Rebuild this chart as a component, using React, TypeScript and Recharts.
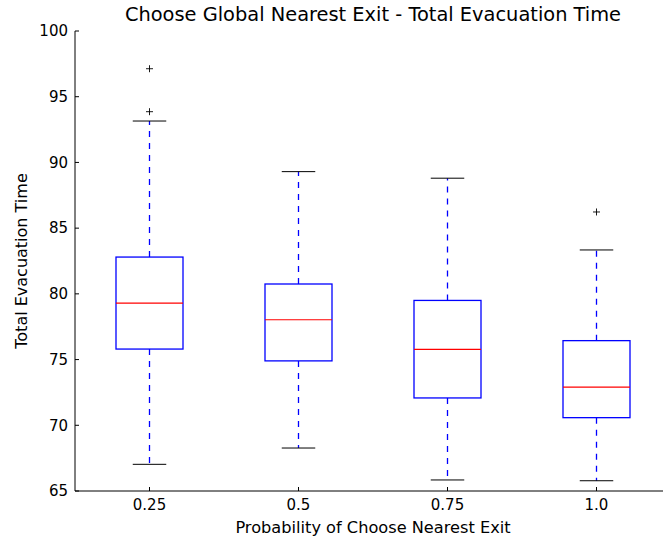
import { ComposedChart, Bar, XAxis, YAxis, Label } from 'recharts';

const categories = ['0.25', '0.5', '0.75', '1.0'];
const whiskerLow = [67.03, 68.27, 65.84, 65.78];
const q1 = [75.8, 74.9, 72.08, 70.58];
const median = [79.3, 78.03, 75.78, 72.9];
const q3 = [82.8, 80.75, 79.5, 76.44];
const whiskerHigh = [93.15, 89.3, 88.8, 83.34];
const outliers: number[][] = [[93.86, 97.13], [], [], [86.23]];
const yTicks = [65, 70, 75, 80, 85, 90, 95, 100];

const data = categories.map((name, i) => ({
  name,
  low: whiskerLow[i],
  q1: q1[i],
  med: median[i],
  q3: q3[i],
  high: whiskerHigh[i],
  fliers: outliers[i],
  range: [Math.min(whiskerLow[i], ...outliers[i]), Math.max(whiskerHigh[i], ...outliers[i])],
}));

const font = '"DejaVu Sans", sans-serif';

// the bar spans the whole range, so its pixel height gives us the y scale
function BoxShape(props: any) {
  const { x, y, width, height, payload } = props;
  const [lo, hi] = payload.range;
  const top = height >= 0 ? y : y + height;
  const k = Math.abs(height) / (hi - lo);
  const py = (v: number) => top + (hi - v) * k;
  const cx = Math.floor(x + width / 2) + 0.5;
  const cap = width / 4;
  return (
    <g>
      <line x1={cx} x2={cx} y1={py(payload.q3)} y2={py(payload.high)} stroke="#0000ff" strokeWidth={1.3} strokeDasharray="6 6" />
      <line x1={cx} x2={cx} y1={py(payload.q1)} y2={py(payload.low)} stroke="#0000ff" strokeWidth={1.3} strokeDasharray="6 6" />
      <line x1={cx - cap} x2={cx + cap} y1={py(payload.high)} y2={py(payload.high)} stroke="#000" />
      <line x1={cx - cap} x2={cx + cap} y1={py(payload.low)} y2={py(payload.low)} stroke="#000" />
      <rect x={x} y={py(payload.q3)} width={width} height={py(payload.q1) - py(payload.q3)} fill="none" stroke="#0000ff" strokeWidth={1.3} />
      <line x1={x} x2={x + width} y1={py(payload.med)} y2={py(payload.med)} stroke="#ff0000" strokeWidth={1.2} />
      {payload.fliers.map((v: number, j: number) => (
        <g key={j} stroke="#000" strokeWidth={0.9}>
          <line x1={cx - 3.5} x2={cx + 3.5} y1={py(v)} y2={py(v)} />
          <line x1={cx} x2={cx} y1={py(v) - 3.5} y2={py(v) + 3.5} />
        </g>
      ))}
    </g>
  );
}

export default function App() {
  return (
    <div style={{ position: 'absolute', left: 0, top: 0, width: 663, height: 538, overflow: 'hidden', background: '#fff' }}>
      <div style={{ position: 'absolute', left: 0, width: 746, top: 3, textAlign: 'center', fontFamily: font, fontSize: 19.4, color: '#000', whiteSpace: 'nowrap' }}>
        Choose Global Nearest Exit - Total Evacuation Time
      </div>
      <ComposedChart width={680} height={538} data={data} margin={{ top: 31, right: 9, bottom: 0, left: 0 }}>
        <XAxis
          dataKey="name"
          height={47}
          tickSize={-4}
          tickMargin={12}
          axisLine={{ stroke: '#000' }}
          tickLine={{ stroke: '#000' }}
          tick={{ fill: '#000', fontSize: 15, fontFamily: font }}
        >
          <Label value="Probability of Choose Nearest Exit" position="insideBottom" offset={5} style={{ fill: '#000', fontSize: 16.2, fontFamily: font }} />
        </XAxis>
        <XAxis
          xAxisId="top"
          orientation="top"
          dataKey="name"
          height={0}
          tickSize={-4}
          axisLine={{ stroke: '#000' }}
          tickLine={{ stroke: '#000' }}
          tickFormatter={() => ''}
        />
        <YAxis
          width={75}
          domain={[65, 100]}
          ticks={yTicks}
          type="number"
          allowDataOverflow
          tickSize={-4}
          tickMargin={11}
          axisLine={{ stroke: '#000' }}
          tickLine={{ stroke: '#000' }}
          tick={{ fill: '#000', fontSize: 15, fontFamily: font }}
        >
          <Label value="Total Evacuation Time" angle={-90} position="center" dx={-16} style={{ fill: '#000', fontSize: 16, fontFamily: font, textAnchor: 'middle' }} />
        </YAxis>
        <Bar dataKey="range" barSize={67} shape={<BoxShape />} isAnimationActive={false} />
      </ComposedChart>
    </div>
  );
}
